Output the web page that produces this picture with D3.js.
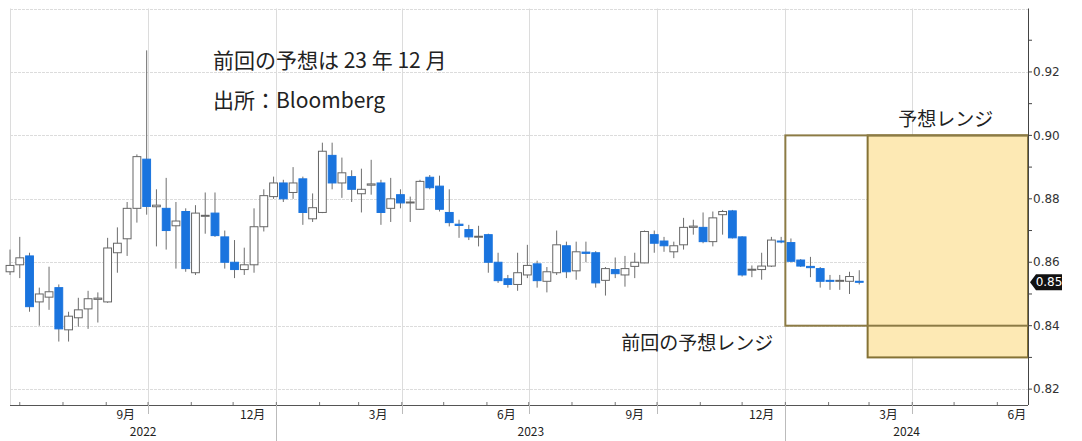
<!DOCTYPE html>
<html lang="ja">
<head>
  <meta charset="utf-8">
  <title>EUR/GBP weekly</title>
  <script src="https://cdn.jsdelivr.net/npm/d3@7"></script>
  <style>
    body { margin: 0; background: #fff; }
    svg { display: block; font-family: "Noto Sans CJK JP", "Noto Sans", sans-serif; }
  </style>
</head>
<body>
  <svg id="chart" width="1082" height="441"></svg>

  <script>
    // weekly candles (week ending Friday)
    const firstWeek = new Date(2022, 5, 24);
    const lastWeek = new Date(2024, 1, 23);
    const opens = [
      .8570, .8592, .8620, .8475, .8490, .8520, .8387, .8425, .8453, .8483,
      .8475, .8630, .8674, .8770, .8925, .8775, .8770, .8715, .8760, .8567,
      .8745, .8755, .8680, .8600, .8577, .8592, .8712, .8807, .8850, .8820,
      .8863, .8737, .8757, .8937, .8850, .8870, .8816, .8843, .8850, .8770,
      .8813, .8787, .8767, .8868, .8840, .8757, .8720, .8703, .8680, .8687,
      .8600, .8548, .8530, .8560, .8595, .8540, .8567, .8652, .8573, .8632,
      .8630, .8543, .8577, .8560, .8587, .8598, .8687, .8667, .8633, .8655,
      .8710, .8710, .8665, .8750, .8762, .8680, .8575, .8577, .8588, .8667,
      .8662, .8607, .8587, .8580, .8543, .8542, .8540, .8540
    ];
    const highs = [
      .8640, .8680, .8630, .8520, .8586, .8530, .8444, .8488, .8510, .8505,
      .8677, .8710, .8790, .8940, .9268, .8830, .8866, .8790, .8770, .8780,
      .8820, .8820, .8700, .8670, .8646, .8770, .8830, .8870, .8860, .8900,
      .8870, .8817, .8977, .8977, .8930, .8890, .8895, .8923, .8860, .8866,
      .8830, .8807, .8860, .8875, .8873, .8830, .8734, .8718, .8715, .8690,
      .8630, .8560, .8630, .8655, .8605, .8585, .8700, .8665, .8665, .8665,
      .8635, .8585, .8615, .8620, .8630, .8700, .8700, .8680, .8665, .8740,
      .8734, .8757, .8760, .8765, .8765, .8682, .8590, .8630, .8680, .8680,
      .8675, .8610, .8617, .8585, .8560, .8560, .8570, .8575
    ];
    const lows = [
      .8560, .8550, .8444, .8400, .8450, .8350, .8350, .8397, .8390, .8410,
      .8472, .8567, .8620, .8725, .8750, .8650, .8640, .8580, .8570, .8560,
      .8690, .8680, .8580, .8550, .8560, .8567, .8697, .8800, .8790, .8800,
      .8718, .8727, .8755, .8830, .8803, .8790, .8757, .8813, .8718, .8727,
      .8770, .8727, .8765, .8830, .8760, .8713, .8677, .8670, .8650, .8567,
      .8535, .8520, .8510, .8550, .8520, .8505, .8560, .8550, .8545, .8600,
      .8520, .8495, .8550, .8523, .8550, .8597, .8630, .8633, .8613, .8640,
      .8687, .8660, .8650, .8687, .8675, .8555, .8553, .8545, .8585, .8660,
      .8600, .8585, .8553, .8520, .8513, .8513, .8500, .8530
    ];
    const closes = [
      .8590, .8614, .8460, .8500, .8507, .8390, .8430, .8450, .8485, .8487,
      .8645, .8660, .8770, .8933, .8776, .8780, .8700, .8730, .8580, .8755,
      .8748, .8684, .8600, .8577, .8592, .8712, .8810, .8850, .8800, .8850,
      .8757, .8772, .8950, .8850, .8882, .8830, .8830, .8847, .8757, .8800,
      .8787, .8790, .8855, .8835, .8767, .8725, .8716, .8680, .8682, .8600,
      .8542, .8530, .8567, .8590, .8542, .8570, .8655, .8570, .8633, .8628,
      .8535, .8580, .8564, .8580, .8600, .8697, .8660, .8652, .8652, .8710,
      .8714, .8665, .8740, .8760, .8677, .8560, .8578, .8588, .8670, .8665,
      .8603, .8588, .8583, .8540, .8542, .8543, .8555, .8537
    ];

    // forecast ranges
    const prevRange = { from: new Date(2024, 0, 1), low: 0.84, high: 0.90, label: "前回の予想レンジ" };
    const newRange = { from: new Date(2024, 1, 29), low: 0.83, high: 0.90, label: "予想レンジ" };

    // axis labels
    const monthLabels = [
      { date: new Date(2022, 8, 15), text: "9月" },
      { date: new Date(2022, 11, 15), text: "12月" },
      { date: new Date(2023, 2, 15), text: "3月" },
      { date: new Date(2023, 5, 15), text: "6月" },
      { date: new Date(2023, 8, 15), text: "9月" },
      { date: new Date(2023, 11, 15), text: "12月" },
      { date: new Date(2024, 2, 15), text: "3月" },
      { date: new Date(2024, 5, 15), text: "6月" }
    ];
    const years = [2022, 2023, 2024];
    const notes = ["前回の予想は 23 年 12 月", "出所：Bloomberg"];

    const dates = d3.timeFriday.range(firstWeek, d3.timeDay.offset(lastWeek, 1));
    const candles = dates.map((d, i) => ({
      date: d, open: opens[i], high: highs[i], low: lows[i], close: closes[i]
    }));

    const svg = d3.select("#chart");
    const plotL = 10, plotR = 1028, plotT = 8.5, plotB = 405;

    const x = d3.scaleTime()
        .domain([new Date(2022, 5, 24), new Date(2024, 5, 23)])
        .range([plotL, plotR]);
    const y = d3.scaleLinear()
        .domain([0.815, 0.94])
        .range([plotB, plotT]);

    svg.append("rect").attr("width", 1082).attr("height", 441).attr("fill", "#fff");

    // gridlines
    const grid = svg.append("g").attr("stroke", "#dcdcdc").attr("stroke-width", 1);
    grid.selectAll("line.h")
      .data(d3.range(0.82, 0.941, 0.02))
      .join("line")
        .attr("x1", plotL).attr("x2", plotR)
        .attr("y1", d => Math.round(y(d)) + 0.5)
        .attr("y2", d => Math.round(y(d)) + 0.5)
        .attr("stroke-dasharray", "3,1");
    const quarters = d3.timeMonth.every(3).range(new Date(2022, 9, 1), x.domain()[1]);
    grid.selectAll("line.v")
      .data(quarters)
      .join("line")
        .attr("x1", d => Math.round(x(d)) + 0.5).attr("x2", d => Math.round(x(d)) + 0.5)
        .attr("y1", plotT).attr("y2", plotB);
    grid.append("line")
        .attr("x1", plotL + 0.5).attr("x2", plotL + 0.5)
        .attr("y1", plotT).attr("y2", plotB);

    // new forecast range box (filled)
    svg.append("rect")
        .attr("x", x(newRange.from))
        .attr("y", y(newRange.high))
        .attr("width", plotR - x(newRange.from))
        .attr("height", y(newRange.low) - y(newRange.high))
        .attr("fill", "#fde9b4")
        .attr("stroke", "#857235")
        .attr("stroke-width", 2);

    // candles
    const bw = (x(new Date(2023, 0, 8)) - x(new Date(2023, 0, 1))) * 0.8;
    const blue = "#1a74de";
    const cg = svg.append("g");
    const c = cg.selectAll("g")
      .data(candles)
      .join("g")
        .attr("transform", d => `translate(${x(d.date)},0)`);
    c.append("line")
        .attr("y1", d => y(d.high))
        .attr("y2", d => y(d.low))
        .attr("stroke", "#6e6e6e")
        .attr("stroke-width", 1);
    c.append("rect")
        .attr("x", -bw / 2)
        .attr("width", bw)
        .attr("y", d => y(Math.max(d.open, d.close)))
        .attr("height", d => Math.max(1, Math.abs(y(d.open) - y(d.close))))
        .attr("fill", d => d.close < d.open ? blue : "#fff")
        .attr("stroke", d => d.close < d.open ? blue : "#666")
        .attr("stroke-width", 1);

    // previous forecast range box (outline)
    svg.append("rect")
        .attr("x", x(prevRange.from))
        .attr("y", y(prevRange.high))
        .attr("width", plotR - x(prevRange.from))
        .attr("height", y(prevRange.low) - y(prevRange.high))
        .attr("fill", "none")
        .attr("stroke", "#8c7b45")
        .attr("stroke-width", 2);

    // range labels
    svg.append("text")
        .attr("x", (x(newRange.from) + plotR) / 2 - 2)
        .attr("y", y(newRange.high) - 9)
        .attr("text-anchor", "middle")
        .attr("font-size", 19)
        .attr("fill", "#222")
        .text(newRange.label);
    svg.append("text")
        .attr("x", x(prevRange.from) - 88)
        .attr("y", y(prevRange.low) + 24)
        .attr("text-anchor", "middle")
        .attr("font-size", 19)
        .attr("fill", "#222")
        .text(prevRange.label);

    // notes
    svg.selectAll("text.note")
      .data(notes)
      .join("text")
        .attr("x", 213)
        .attr("y", (d, i) => 68 + i * 40)
        .attr("font-size", 21)
        .attr("fill", "#222")
        .text(d => d);

    // right axis
    const ra = svg.append("g").attr("transform", `translate(${plotR},0)`);
    ra.append("line").attr("x1", 0.5).attr("x2", 0.5).attr("y1", plotT).attr("y2", plotB)
        .attr("stroke", "#444");
    ra.selectAll("line.t")
      .data(d3.range(0.82, 0.935, 0.01))
      .join("line")
        .attr("x1", 0).attr("x2", 4)
        .attr("y1", d => y(d)).attr("y2", d => y(d))
        .attr("stroke", "#444");
    ra.selectAll("text")
      .data(d3.range(0.82, 0.921, 0.02))
      .join("text")
        .attr("x", 5)
        .attr("y", d => y(d))
        .attr("dy", "0.35em")
        .attr("font-family", "DejaVu Sans")
        .attr("font-size", 12)
        .attr("fill", "#333")
        .text(d => d3.format(".2f")(d));

    // last price tag
    const last = candles[candles.length - 1].close;
    const ly = y(last);
    ra.append("path")
        .attr("d", `M2,${ly} L8,${ly - 8} L34,${ly - 8} L34,${ly + 8} L8,${ly + 8} Z`)
        .attr("fill", "#111");
    ra.append("text")
        .attr("x", 21).attr("y", ly).attr("dy", "0.35em")
        .attr("text-anchor", "middle")
        .attr("font-family", "DejaVu Sans")
        .attr("font-size", 12)
        .attr("fill", "#fff")
        .text(d3.format(".2f")(last));

    // bottom axis
    const ba = svg.append("g").attr("stroke", "#555");
    ba.append("line").attr("x1", plotL).attr("x2", plotR)
        .attr("y1", plotB + 0.5).attr("y2", plotB + 0.5);
    ba.selectAll("line.m")
      .data(d3.timeMonth.range(new Date(2022, 6, 1), x.domain()[1]))
      .join("line")
        .attr("x1", d => x(d)).attr("x2", d => x(d))
        .attr("y1", plotB - 3).attr("y2", plotB)
        .attr("stroke", "#777");
    ba.selectAll("line.q")
      .data(quarters)
      .join("line")
        .attr("x1", d => Math.round(x(d)) + 0.5).attr("x2", d => Math.round(x(d)) + 0.5)
        .attr("y1", plotB).attr("y2", plotB + 9)
        .attr("stroke", "#bbb");
    ba.selectAll("line.y")
      .data(years.slice(1))
      .join("line")
        .attr("x1", d => Math.round(x(new Date(d, 0, 1))) + 0.5)
        .attr("x2", d => Math.round(x(new Date(d, 0, 1))) + 0.5)
        .attr("y1", plotB).attr("y2", 441)
        .attr("stroke", "#bbb");

    svg.selectAll("text.month")
      .data(monthLabels)
      .join("text")
        .attr("x", d => x(d.date))
        .attr("y", plotB + 14)
        .attr("text-anchor", "middle")
        .attr("font-size", 12)
        .attr("fill", "#222")
        .text(d => d.text);
    svg.selectAll("text.year")
      .data(years)
      .join("text")
        .attr("x", d => {
          const a = Math.max(plotL, x(new Date(d, 0, 1)));
          const b = Math.min(plotR, x(new Date(d + 1, 0, 1)));
          return (a + b) / 2;
        })
        .attr("y", plotB + 31)
        .attr("text-anchor", "middle")
        .attr("font-size", 12)
        .attr("fill", "#222")
        .text(d => d);
  </script>
</body>
</html>
